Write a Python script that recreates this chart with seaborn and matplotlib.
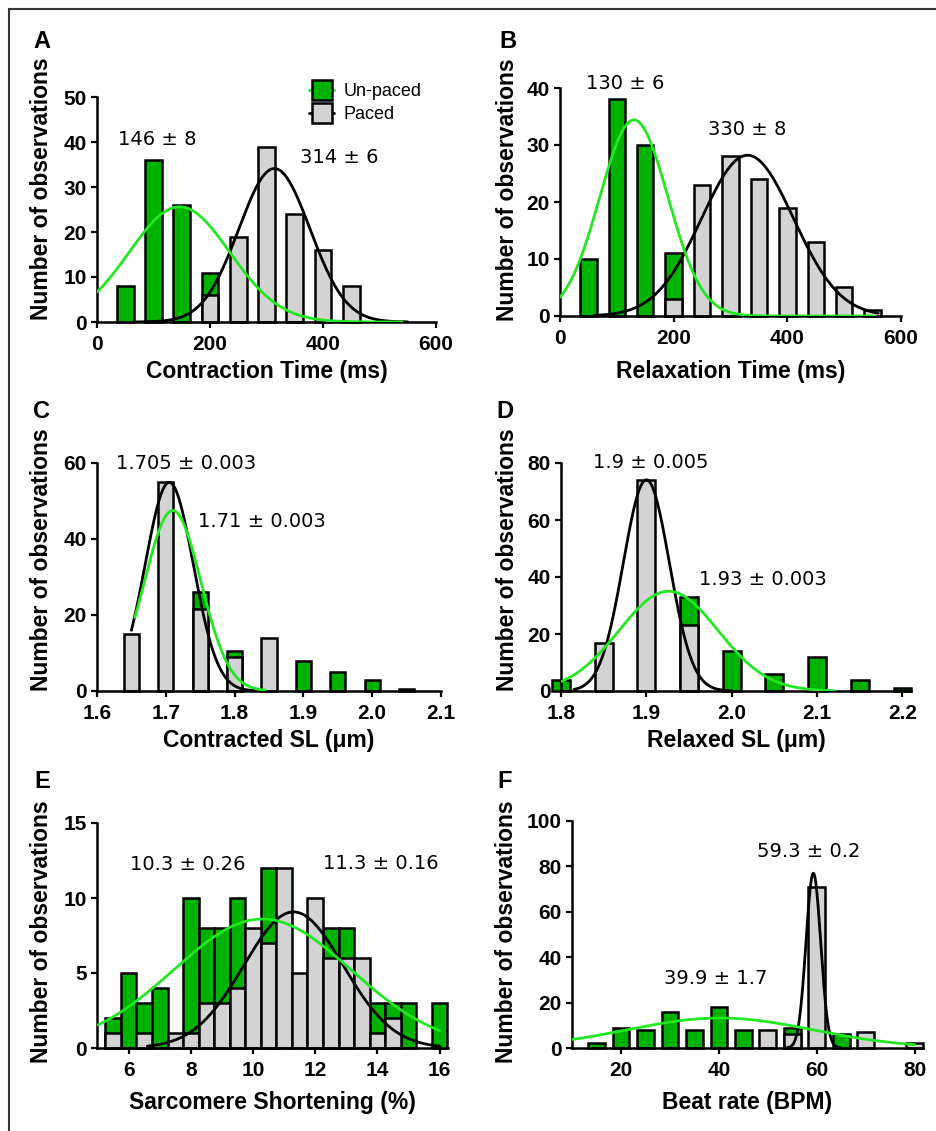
import matplotlib
matplotlib.use('Agg')
import matplotlib.pyplot as plt
import seaborn as sns
import numpy as np
from matplotlib.lines import Line2D

# ---- valores ----
# A: Contraction Time (ms)
ct_unp_x = [50, 100, 150, 200]
ct_unp_n = [8, 36, 26, 11]
ct_pac_x = [200, 250, 300, 350, 400, 450]
ct_pac_n = [6, 19, 39, 24, 16, 8]
# ajustes gaussianos: (pico, media, sd, desde, hasta)
ct_unp_fit = (25.6, 146, 89, 0, 540)
ct_pac_fit = (34.1, 314, 63, 70, 550)

# B: Relaxation Time (ms)
rt_unp_x = [50, 100, 150, 200]
rt_unp_n = [10, 38, 30, 11]
rt_pac_x = [200, 250, 300, 350, 400, 450, 500, 550]
rt_pac_n = [3, 23, 28, 24, 19, 13, 5, 1]
rt_unp_fit = (34.4, 130, 60, 0, 555)
rt_pac_fit = (28.2, 330, 81, 60, 560)

# C: Contracted SL (um)
csl_unp_x = [1.75, 1.80, 1.90, 1.95, 2.00, 2.05]
csl_unp_n = [26, 10.5, 8, 5, 3, 0.6]
csl_pac_x = [1.65, 1.70, 1.75, 1.80, 1.85]
csl_pac_n = [15, 55, 21.5, 9, 14]
csl_unp_fit = (47.5, 1.71, 0.041, 1.655, 1.845)
csl_pac_fit = (54.9, 1.705, 0.035, 1.65, 1.83)

# D: Relaxed SL (um)
rsl_unp_x = [1.80, 1.95, 2.00, 2.05, 2.10, 2.15, 2.20]
rsl_unp_n = [4, 33, 14, 6, 12, 4, 1]
rsl_pac_x = [1.85, 1.90, 1.95]
rsl_pac_n = [17, 74, 23]
rsl_unp_fit = (35.0, 1.926, 0.058, 1.80, 2.12)
rsl_pac_fit = (74.1, 1.90, 0.027, 1.815, 2.0)

# E: Sarcomere Shortening (%)
ss_unp_x = [5.5, 6, 6.5, 7, 8, 8.5, 9, 9.5, 10.5, 12.5, 13, 14, 14.5, 15, 16]
ss_unp_n = [2, 5, 3, 4, 10, 8, 8, 10, 12, 8, 8, 3, 3, 3, 3]
ss_pac_x = [5.5, 6.5, 7.5, 8, 8.5, 9, 9.5, 10, 10.5, 11, 11.5, 12, 12.5, 13, 13.5, 14, 14.5]
ss_pac_n = [1, 1, 1, 1, 3, 3, 4, 8, 7, 12, 5, 10, 6, 6, 6, 1, 2]
ss_unp_fit = (8.6, 10.3, 2.85, 5.0, 16.0)
ss_pac_fit = (9.07, 11.3, 1.6, 6.6, 16.0)

# F: Beat rate (BPM)
br_unp_x = [15, 20, 25, 30, 35, 40, 45, 55, 65]
br_unp_n = [2, 9, 8, 16, 8, 18, 8, 9, 6]
br_pac_x = [50, 55, 60, 70, 80]
br_pac_n = [8, 6, 71, 7, 2]
br_unp_fit = (13.2, 40.2, 19, 10, 80)
br_pac_fit = (77, 59.3, 1.5, 53.5, 65)

GREEN = '#00b200'
GRAY = '#d3d3d3'
LIME = '#22e822'
W, H = 936, 1131

sns.set_theme(style='ticks')
plt.rcParams['font.family'] = ['Liberation Sans', 'DejaVu Sans']
plt.rcParams.update({
    'text.color': 'black',
    'axes.labelcolor': 'black',
    'axes.edgecolor': 'black',
    'xtick.color': 'black',
    'ytick.color': 'black',
})

fig = plt.figure(figsize=(W / 100, H / 100), dpi=100)


def make_axes(left, right, top, bottom):
    return fig.add_axes([left / W, 1 - bottom / H, (right - left) / W, (bottom - top) / H])


def gauss_curve(fit):
    peak, mu, sd, lo, hi = fit
    xs = np.linspace(lo, hi, 300)
    return xs, peak * np.exp(-(xs - mu) ** 2 / (2 * sd ** 2))


def draw_panel(ax, ux, un, px, pn, ufit, pfit, width):
    for xs, ns, col in [(ux, un, GREEN), (px, pn, GRAY)]:
        sns.barplot(x=xs, y=ns, native_scale=True, width=width, color=col,
                    saturation=1, edgecolor='black', linewidth=1.8,
                    errorbar=None, ax=ax)
    for p in ax.patches:
        p.set_clip_on(False)
    for fit, col in [(pfit, 'black'), (ufit, LIME)]:
        gx, gy = gauss_curve(fit)
        sns.lineplot(x=gx, y=gy, color=col, linewidth=2.0, ax=ax, zorder=5)


def style_axes(ax, xlim, xticks, ylim, yticks, xlabel, letter, letter_xy,
               ylab_xy, xlab_y, xfmt=None):
    ax.set_xlim(*xlim)
    ax.set_ylim(*ylim)
    ax.set_xticks(xticks)
    ax.set_yticks(yticks)
    if xfmt:
        ax.set_xticklabels([xfmt.format(t) for t in xticks])
    sns.despine(ax=ax)
    ax.spines['left'].set_linewidth(1.8)
    ax.spines['bottom'].set_linewidth(1.8)
    ax.tick_params(direction='out', length=4.5, width=1.6, pad=3,
                   labelsize=15)
    ax.tick_params(axis='x', pad=5)
    for t in ax.get_xticklabels() + ax.get_yticklabels():
        t.set_fontweight('bold')
    bb = ax.get_position()
    ax.set_xlabel(xlabel, fontsize=16.5, fontweight='bold')
    ax.set_ylabel('Number of observations', fontsize=16.5, fontweight='bold')
    # posiciones en pixeles de la figura
    ax.xaxis.set_label_coords(0.5, (1 - xlab_y / H - bb.y0) / bb.height)
    ax.xaxis.label.set_va('center')
    ax.yaxis.set_label_coords((ylab_xy[0] / W - bb.x0) / bb.width,
                              (1 - ylab_xy[1] / H - bb.y0) / bb.height)
    ax.yaxis.label.set_va('center')
    ax.yaxis.label.set_ha('center')
    fig.text(letter_xy[0] / W, 1 - letter_xy[1] / H, letter, fontsize=17,
             fontweight='bold', ha='center', va='center')


def note(ax, x, y, s):
    ax.text(x, y, s, fontsize=14, family='DejaVu Sans', ha='center',
            va='center', zorder=6)


# A
axA = make_axes(97, 436, 97, 322)
draw_panel(axA, ct_unp_x, ct_unp_n, ct_pac_x, ct_pac_n, ct_unp_fit, ct_pac_fit, 0.6)
style_axes(axA, (0, 600), [0, 200, 400, 600], (0, 50), range(0, 51, 10),
           'Contraction Time (ms)', 'A', (42, 42), (42, 189), 372)
note(axA, 107, 40.6, '146 ± 8')
note(axA, 429, 36.5, '314 ± 6')
handles = [
    Line2D([], [], color=LIME, lw=2, marker='s', markersize=14,
           markerfacecolor=GREEN, markeredgecolor='black', markeredgewidth=1.8),
    Line2D([], [], color='black', lw=2, marker='s', markersize=14,
           markerfacecolor=GRAY, markeredgecolor='black', markeredgewidth=1.8),
]
axA.legend(handles, ['Un-paced', 'Paced'], loc='upper left', frameon=False,
           bbox_to_anchor=(300 / W, 1 - 74 / H), bbox_transform=fig.transFigure,
           fontsize=13, handlelength=1.4, handletextpad=0.5, labelspacing=0.35,
           numpoints=1, borderpad=0)

# B
axB = make_axes(560, 901, 88, 316)
draw_panel(axB, rt_unp_x, rt_unp_n, rt_pac_x, rt_pac_n, rt_unp_fit, rt_pac_fit, 0.58)
style_axes(axB, (0, 600), [0, 200, 400, 600], (0, 40), range(0, 41, 10),
           'Relaxation Time (ms)', 'B', (508, 42), (507, 190), 372)
note(axB, 114, 40.8, '130 ± 6')
note(axB, 330, 32.7, '330 ± 8')

# C
axC = make_axes(97, 441, 463, 691)
draw_panel(axC, csl_unp_x, csl_unp_n, csl_pac_x, csl_pac_n, csl_unp_fit, csl_pac_fit, 0.44)
style_axes(axC, (1.6, 2.1), [1.6, 1.7, 1.8, 1.9, 2.0, 2.1], (0, 60), [0, 20, 40, 60],
           'Contracted SL (μm)', 'C', (42, 411), (42, 560), 741, xfmt='{:.1f}')
note(axC, 1.729, 59.8, '1.705 ± 0.003')
note(axC, 1.839, 44.6, '1.71 ± 0.003')

# D
axD = make_axes(561, 911, 463, 691)
draw_panel(axD, rsl_unp_x, rsl_unp_n, rsl_pac_x, rsl_pac_n, rsl_unp_fit, rsl_pac_fit, 0.42)
style_axes(axD, (1.8, 2.21), [1.8, 1.9, 2.0, 2.1, 2.2], (0, 80), [0, 20, 40, 60, 80],
           'Relaxed SL (μm)', 'D', (505, 411), (507, 560), 741, xfmt='{:.1f}')
note(axD, 1.905, 80, '1.9 ± 0.005')
note(axD, 2.036, 39, '1.93 ± 0.003')

# E
axE = make_axes(97, 448, 823, 1048)
draw_panel(axE, ss_unp_x, ss_unp_n, ss_pac_x, ss_pac_n, ss_unp_fit, ss_pac_fit, 1.0)
style_axes(axE, (4.98, 16.27), [6, 8, 10, 12, 14, 16], (0, 15), [0, 5, 10, 15],
           'Sarcomere Shortening (%)', 'E', (42, 781), (42, 932), 1102)
note(axE, 7.9, 12.2, '10.3 ± 0.26')
note(axE, 14.1, 12.3, '11.3 ± 0.16')

# F
axF = make_axes(572, 923, 821, 1048)
draw_panel(axF, br_unp_x, br_unp_n, br_pac_x, br_pac_n, br_unp_fit, br_pac_fit, 0.68)
style_axes(axF, (10, 81.7), [20, 40, 60, 80], (0, 100), range(0, 101, 20),
           'Beat rate (BPM)', 'F', (505, 781), (507, 932), 1102)
note(axF, 58.4, 86.6, '59.3 ± 0.2')
note(axF, 39.3, 30.5, '39.9 ± 1.7')

# marco recortado (arriba e izquierda)
fig.add_artist(Line2D([9 / W, 1], [1 - 9 / H, 1 - 9 / H], transform=fig.transFigure,
                      color='#333333', lw=1.5))
fig.add_artist(Line2D([9 / W, 9 / W], [0, 1 - 9 / H], transform=fig.transFigure,
                      color='#333333', lw=1.5))

fig.savefig('out.png', dpi=100, facecolor='white')
